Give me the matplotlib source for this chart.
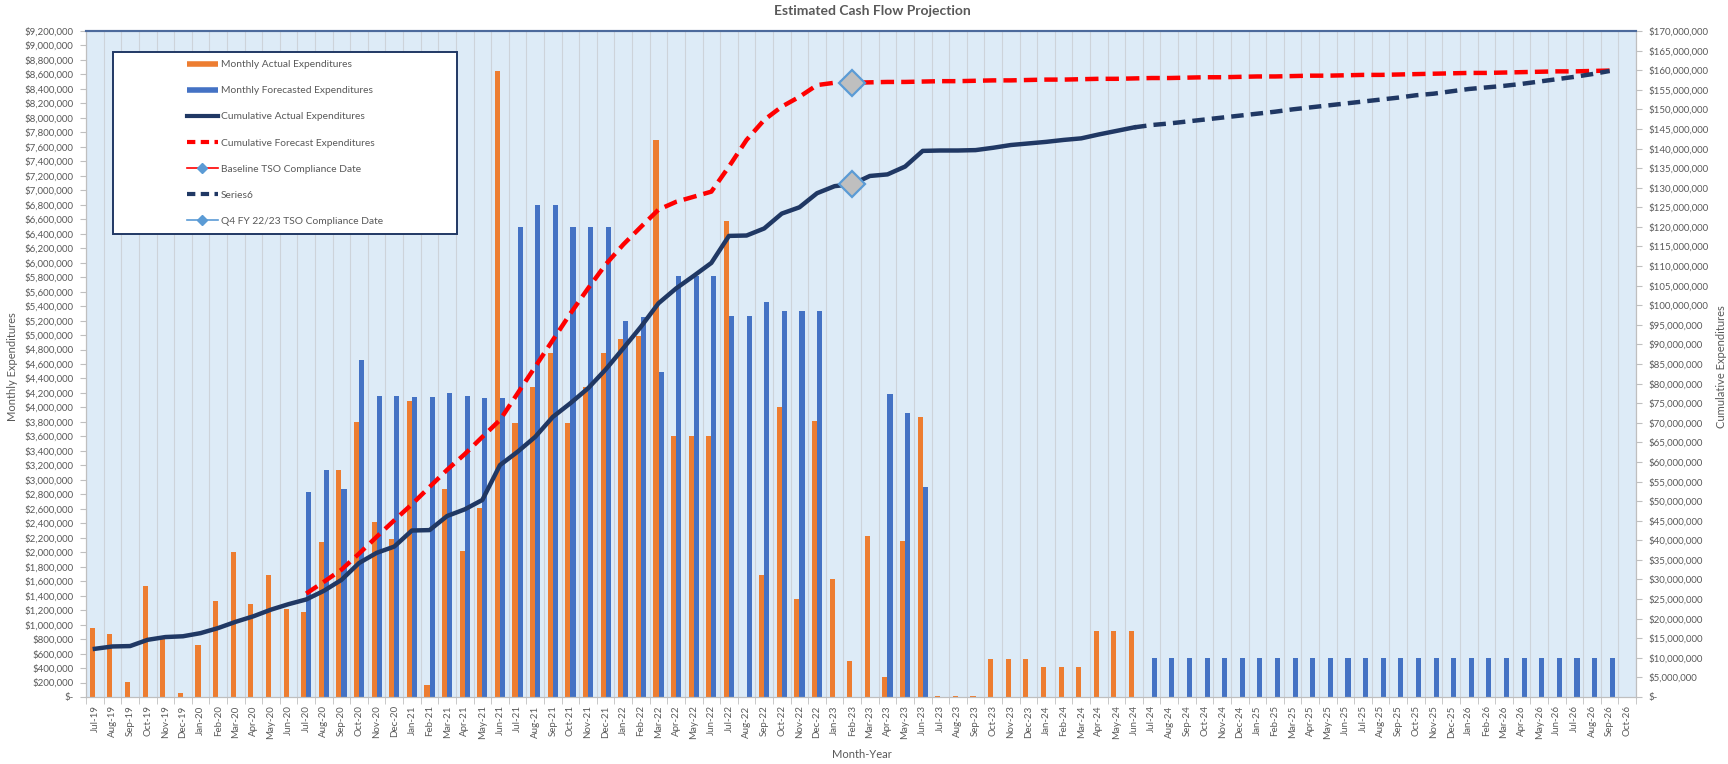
import matplotlib
matplotlib.use("Agg")
import matplotlib.pyplot as plt
import numpy as np
import pandas as pd
from matplotlib.lines import Line2D
from matplotlib.patches import Rectangle
from matplotlib.ticker import FuncFormatter, MultipleLocator

plt.rcParams['font.family'] = ['Lato', 'DejaVu Sans']

# month categories Jul-19 .. Oct-26
months = pd.date_range('2019-07-01', '2026-10-01', freq='MS').strftime('%b-%y').tolist()

# monthly values, $M (left axis)
monthly_actual = [
    0.95, 0.87, 0.21, 1.53, 0.80, 0.05, 0.72, 1.32, 2.00, 1.28, 1.68, 1.22,
    1.17, 2.14, 3.14, 3.80, 2.42, 2.18, 4.09, 0.17, 2.88, 2.02, 2.61, 8.65,
    3.78, 4.28, 4.75, 3.78, 4.28, 4.75, 4.95, 4.98, 7.70, 3.60, 3.60, 3.60,
    6.57, None, 1.68, 4.00, 1.36, 3.81, 1.63, 0.50, 2.23, 0.27, 2.15, 3.87,
    0.02, 0.02, 0.02, 0.52, 0.52, 0.52, 0.41, 0.41, 0.41, 0.91, 0.91, 0.91,
] + [None] * 28

monthly_forecast = [None] * 12 + [
    2.83, 3.13, 2.88, 4.66, 4.16, 4.16, 4.15, 4.15, 4.20, 4.16, 4.13, 4.13,
    6.49, 6.79, 6.79, 6.49, 6.49, 6.49, 5.19, 5.25, 4.49, 5.81, 5.81, 5.81,
    5.27, 5.27, 5.46, 5.33, 5.33, 5.33, None, None, None, 4.18, 3.93, 2.90,
] + [None] * 12 + [
    0.54, 0.54, 0.54, 0.54, 0.54, 0.54, 0.54, 0.54, 0.54, 0.54, 0.54, 0.54,
    0.54, 0.54, 0.54, 0.54, 0.54, 0.54, 0.54, 0.54, 0.54, 0.54, 0.54, 0.54,
    0.54, 0.54, 0.54, None,
]

# cumulative values, $M (right axis)
cum_actual = [
    12.3, 12.9, 13.0, 14.6, 15.3, 15.5, 16.3, 17.6, 19.2, 20.6, 22.3, 23.7,
    24.9, 27.1, 29.9, 34.2, 36.8, 38.4, 42.5, 42.6, 46.2, 47.9, 50.3, 59.2,
    62.6, 66.4, 71.5, 75.0, 78.8, 83.6, 89.0, 94.5, 100.5, 104.3, 107.5, 110.8,
    117.7, 117.8, 119.6, 123.4, 125.0, 128.6, 130.4, 130.9, 133.0, 133.4, 135.4, 139.4,
    139.5, 139.5, 139.6, 140.2, 140.9, 141.3, 141.7, 142.2, 142.6, 143.6, 144.5, 145.4,
] + [None] * 28

series6 = [None] * 59 + [
    145.4, 146.0, 146.4, 146.9, 147.4, 147.9, 148.4, 148.9, 149.4, 150.0,
    150.5, 151.0, 151.5, 152.0, 152.5, 153.0, 153.6, 154.0, 154.6, 155.2,
    155.6, 156.0, 156.5, 157.1, 157.7, 158.3, 159.0, 159.8,
] + [None]

cum_forecast = [None] * 12 + [
    26.4, 29.4, 32.5, 36.6, 40.9, 45.1, 49.2, 53.6, 58.0, 62.0, 66.4, 70.7,
    77.5, 84.3, 91.1, 97.9, 104.3, 110.4, 115.5, 120.0, 124.4, 126.4, 127.7, 129.0,
    135.4, 142.2, 147.3, 150.7, 153.2, 156.2, 156.8, 156.8,
    156.9, 157.0, 157.0, 157.1, 157.2, 157.2, 157.3, 157.4, 157.4, 157.5,
    157.6, 157.6, 157.7, 157.8, 157.8, 157.9, 158.0, 158.0, 158.1, 158.2,
    158.2, 158.3, 158.4, 158.4, 158.5, 158.6, 158.6, 158.7, 158.8, 158.8,
    158.9, 159.0, 159.1, 159.2, 159.3, 159.3, 159.4, 159.5, 159.6, 159.7,
    159.7, 159.8, 159.9,
] + [None]

compliance_month = 'Feb-23'
baseline_value = 156.8
q4_value = 130.9


def to_arr(vals):
    return np.array([np.nan if v is None else v * 1e6 for v in vals])


ORANGE = '#ED7D31'
BLUE = '#4472C4'
NAVY = '#203864'
RED = '#FF0000'
LBLUE = '#5B9BD5'
TXT = '#595959'

fig = plt.figure(figsize=(17.28, 7.64), dpi=100)
ax = fig.add_axes([0.0498, 0.0877, 0.8970, 0.8717])
ax.set_facecolor('#DDEBF7')

x = np.arange(len(months))
w = 0.29
ax.bar(x - w / 2, to_arr(monthly_actual), w, color=ORANGE, zorder=2)
ax.bar(x + w / 2, to_arr(monthly_forecast), w, color=BLUE, zorder=2)

ax.set_xlim(-0.5, len(months) - 0.5)
ax.set_ylim(0, 9.2e6)
ax.yaxis.set_major_locator(MultipleLocator(200000))
money = FuncFormatter(lambda v, p: '$-' if v == 0 else f'${v:,.0f}')
ax.yaxis.set_major_formatter(money)

ax.set_xticks(x)
ax.set_xticklabels(months, rotation=90)
ax.set_xticks(np.arange(-0.5, len(months), 1), minor=True)
ax.tick_params(axis='x', which='major', length=0, pad=6, labelsize=7, labelcolor=TXT)
ax.tick_params(axis='x', which='minor', length=5, color='#BFBFBF')
ax.tick_params(axis='y', length=4, color='#BFBFBF', pad=5, labelsize=7, labelcolor=TXT)
ax.grid(axis='x', which='minor', color='#CDD3DA', lw=0.8)
ax.set_axisbelow(True)

ax2 = ax.twinx()
ax2.set_ylim(0, 170e6)
ax2.yaxis.set_major_locator(MultipleLocator(5e6))
ax2.yaxis.set_major_formatter(money)
ax2.tick_params(axis='y', length=4, color='#BFBFBF', pad=5, labelsize=7, labelcolor=TXT)

l_fc, = ax2.plot(x, to_arr(cum_forecast), color=RED, lw=3.2, zorder=3)
l_fc.set_dashes([3, 1.6])
l_s6, = ax2.plot(x, to_arr(series6), color=NAVY, lw=3.2, zorder=3)
l_s6.set_dashes([2.8, 1.6])
ax2.plot(x, to_arr(cum_actual), color=NAVY, lw=3.2, zorder=4, solid_joinstyle='round')

ci = months.index(compliance_month)
ax2.plot([ci], [baseline_value * 1e6], marker='D', ms=13, mfc='#BFBFBF', mec=LBLUE, mew=1.6, zorder=5)
ax2.plot([ci], [q4_value * 1e6], marker='D', ms=13, mfc='#BFBFBF', mec=LBLUE, mew=1.6, zorder=5)

for a in (ax, ax2):
    for s in ('left', 'right', 'bottom'):
        a.spines[s].set_color('#BFBFBF')
    a.spines['top'].set_color('#4C6A9C')
    a.spines['top'].set_linewidth(1.5)

fig.text(0.505, 0.985, 'Estimated Cash Flow Projection', ha='center', va='center',
         fontsize=10, fontweight='bold', color=TXT)
fig.text(0.499, 0.012, 'Month-Year', ha='center', va='center', fontsize=8, color=TXT)
fig.text(0.0075, 0.52, 'Monthly Expenditures', rotation=90, ha='center', va='center',
         fontsize=8, color=TXT)
fig.text(0.9965, 0.52, 'Cumulative Expenditures', rotation=90, ha='center', va='center',
         fontsize=8, color=TXT)

# legend box
bx, by, bw, bh = 113 / 1728, 1 - 234 / 764, 344 / 1728, 182 / 764
fig.patches.append(Rectangle((bx, by), bw, bh, transform=fig.transFigure,
                             facecolor='white', edgecolor=NAVY, lw=1.4, zorder=4))
handles = [
    Line2D([], [], color=ORANGE, lw=4, solid_capstyle='butt'),
    Line2D([], [], color=BLUE, lw=4, solid_capstyle='butt'),
    Line2D([], [], color=NAVY, lw=3),
    Line2D([], [], color=RED, lw=3, dashes=[2, 1.3]),
    Line2D([], [], color=RED, lw=1.2, marker='D', ms=5, mfc=LBLUE, mec=LBLUE),
    Line2D([], [], color=NAVY, lw=3, dashes=[2, 1.3]),
    Line2D([], [], color=LBLUE, lw=1.2, marker='D', ms=5, mfc=LBLUE, mec=LBLUE),
]
labels = ['Monthly Actual Expenditures', 'Monthly Forecasted Expenditures',
          'Cumulative Actual Expenditures', 'Cumulative Forecast Expenditures',
          'Baseline TSO Compliance Date', 'Series6', 'Q4 FY 22/23 TSO Compliance Date']
leg = fig.legend(handles, labels, loc='center', bbox_to_anchor=(bx + bw / 2, by + bh / 2),
                 frameon=False, fontsize=7.4, handlelength=3.0, handletextpad=0.3,
                 labelspacing=1.65, labelcolor=TXT)
leg.set_zorder(6)

fig.savefig('out.png', dpi=100)
